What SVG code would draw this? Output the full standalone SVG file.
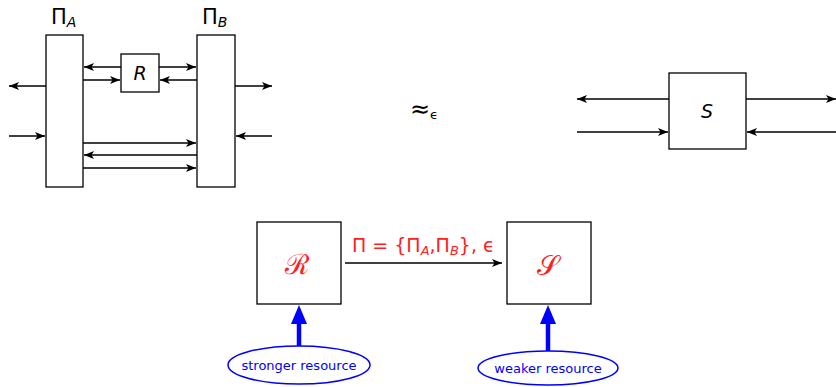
<svg xmlns="http://www.w3.org/2000/svg" width="836" height="387" viewBox="0 0 836 387">
<defs>
<marker id="ah" viewBox="0 0 10 8" refX="10" refY="4" markerWidth="10" markerHeight="8" markerUnits="userSpaceOnUse" orient="auto">
<path d="M0,0 L10,4 L0,8 L2.5,4 Z" fill="#000"/>
</marker>
</defs>
<style>
.box{fill:#fff;stroke:#000;stroke-width:1.3}
.ln{stroke:#000;stroke-width:1.3;fill:none;marker-end:url(#ah)}
.bl{stroke:#0000ff;stroke-width:4.5;fill:none}
.t{font-family:"DejaVu Sans",sans-serif;fill:#000}
.red{fill:#ff2020}
.ell{fill:#fff;stroke:#0000ff;stroke-width:1.5}
.et{font-family:"DejaVu Sans",sans-serif;font-size:13px;fill:#0000ff;text-anchor:middle}
</style>
<rect width="836" height="387" fill="#fff"/>
<g id="connectors">
<line class="ln" x1="121" y1="67" x2="84" y2="67"/>
<line class="ln" x1="159" y1="67" x2="196" y2="67"/>
<line class="ln" x1="83" y1="80" x2="120" y2="80"/>
<line class="ln" x1="197" y1="80" x2="160" y2="80"/>
<line class="ln" x1="46" y1="86" x2="9" y2="86"/>
<line class="ln" x1="9" y1="136" x2="45" y2="136"/>
<line class="ln" x1="235" y1="86" x2="272" y2="86"/>
<line class="ln" x1="272" y1="136" x2="236" y2="136"/>
<line class="ln" x1="83" y1="143" x2="196" y2="143"/>
<line class="ln" x1="197" y1="155" x2="84" y2="155"/>
<line class="ln" x1="83" y1="168" x2="196" y2="168"/>
<line class="ln" x1="669" y1="99" x2="577" y2="99"/>
<line class="ln" x1="577" y1="132" x2="668" y2="132"/>
<line class="ln" x1="746" y1="99" x2="836" y2="99"/>
<line class="ln" x1="836" y1="132" x2="747" y2="132"/>
<line class="ln" x1="345" y1="263" x2="502" y2="263"/>
<line class="bl" x1="299" y1="347" x2="299" y2="322"/>
<path d="M291,324 L299,305 L307,324 Z" fill="#0000ff"/>
<line class="bl" x1="548" y1="352" x2="548" y2="322"/>
<path d="M540,324 L548,305 L556,324 Z" fill="#0000ff"/>
</g>
<g id="PiA">
<rect class="box" x="46" y="35" width="37" height="152"/>
<text class="t" x="51" y="23.5" font-size="21">Π<tspan font-size="14" font-style="italic" dy="3.5">A</tspan></text>
</g>
<g id="PiB">
<rect class="box" x="197" y="35" width="38" height="152"/>
<text class="t" x="202" y="23.5" font-size="21">Π<tspan font-size="14" font-style="italic" dy="3.5">B</tspan></text>
</g>
<g id="R">
<rect class="box" x="121" y="54" width="38" height="38"/>
<text class="t" x="140" y="80" font-size="19" font-style="italic" text-anchor="middle">R</text>
</g>
<g id="approx">
<text class="t" x="410" y="117" font-size="24">≈<tspan font-size="13" dy="2">ϵ</tspan></text>
</g>
<g id="S">
<rect class="box" x="669" y="73" width="77" height="76"/>
<text class="t" x="707" y="118" font-size="19" font-style="italic" text-anchor="middle">S</text>
</g>
<g id="calR">
<rect class="box" x="257" y="222" width="84" height="82"/>
<text x="297" y="274" font-family="'DejaVu Serif',serif" font-size="28" class="red" text-anchor="middle">ℛ</text>
</g>
<g id="calS">
<rect class="box" x="507" y="222" width="84" height="82"/>
<text x="548" y="275" font-family="'DejaVu Serif',serif" font-size="28" class="red" text-anchor="middle">𝒮</text>
</g>
<g id="label">
<text class="t red" x="352" y="252" font-size="19">Π = {Π<tspan font-size="13" font-style="italic" dy="3">A</tspan><tspan dy="-3">,Π</tspan><tspan font-size="13" font-style="italic" dy="3">B</tspan><tspan dy="-3">}, ϵ</tspan></text>
</g>
<g id="stronger">
<ellipse class="ell" cx="299" cy="365" rx="71" ry="19"/>
<text class="et" x="299" y="370">stronger resource</text>
</g>
<g id="weaker">
<ellipse class="ell" cx="548" cy="368" rx="70" ry="17"/>
<text class="et" x="548" y="373">weaker resource</text>
</g>
</svg>
